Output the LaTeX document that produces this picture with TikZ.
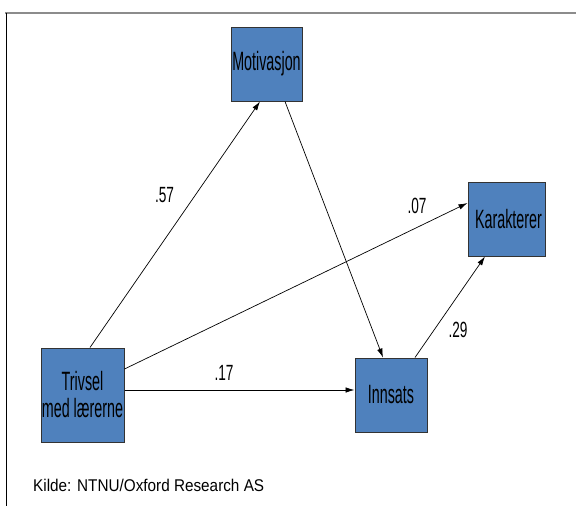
\documentclass[tikz,border=0pt]{standalone}
\usepackage{fontspec}
\setmainfont{Liberation Sans}
\newfontfamily\boxfont[FakeStretch=0.54]{Liberation Sans}
\newfontfamily\labfont[FakeStretch=0.62]{Liberation Sans}
\newfontfamily\srcfont[FakeStretch=0.9]{Liberation Sans}
\usetikzlibrary{arrows.meta}
\definecolor{boxblue}{HTML}{4F81BD}
\definecolor{boxedge}{HTML}{333333}
\tikzset{
  varbox/.style={draw=boxedge, line width=1pt, fill=boxblue, inner sep=0pt,
    align=center, text=black, font=\boxfont\fontsize{26.5}{27}\selectfont},
  path/.style={draw=black, line width=0.7pt, -{Latex[length=9pt,width=5.5pt]}},
  coef/.style={inner sep=0pt, font=\labfont\fontsize{22}{24}\selectfont},
}
\begin{document}
\begin{tikzpicture}[x=1pt,y=-1pt]
\useasboundingbox (0,0) rectangle (576,506);
\fill[white] (0,0) rectangle (576,506);
\draw[gray!90, line width=1.5pt] (5,13) -- (576,13);
\draw[black, line width=1pt] (6,13) -- (6,506);

\node[varbox, minimum width=71pt, minimum height=74pt] (mot) at (266.5,64) {Motivasjon};
\node[varbox, minimum width=83pt, minimum height=94pt] (tri) at (82.5,395) {Trivsel\\med lærerne};
\node[varbox, minimum width=77pt, minimum height=74pt] (kar) at (506.5,219) {\hspace*{4pt}Karakterer};
\node[varbox, minimum width=72pt, minimum height=74pt] (inn) at (391,395) {Innsats};

\path[path] ([xshift=7.5pt]tri.north) -- ([xshift=-6.5pt]mot.south);
\path[path] ([xshift=18.5pt]mot.south) -- ([xshift=-8pt]inn.north);
\path[path] ([yshift=26pt]tri.east) -- ([yshift=16pt]kar.west);
\path[path] ([yshift=5pt]tri.east) -- ([yshift=5pt]inn.west);
\path[path] ([xshift=24pt]inn.north) -- ([xshift=-21.5pt]kar.south);

\node[coef] (c57) at (164.5,195) {.57};
\node[coef] (c17) at (224,372.5) {.17};
\node[coef] (c07) at (417,206) {.07};
\node[coef] (c29) at (458,329.5) {.29};

\node[anchor=base west, inner sep=0pt, font=\srcfont\fontsize{17}{20}\selectfont] (src) at (33,491) {Kilde: NTNU/Oxford Research AS};
\end{tikzpicture}
\end{document}
